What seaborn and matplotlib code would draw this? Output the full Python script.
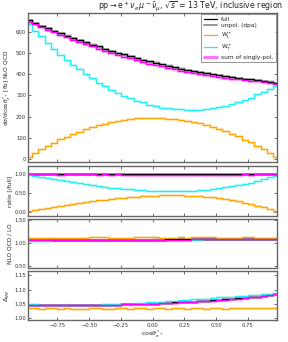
import numpy as np
import pandas as pd
import matplotlib
matplotlib.use("Agg")
import matplotlib.pyplot as plt
from matplotlib.lines import Line2D
import seaborn as sns

# bin edges of cos(theta*) : 40 bins of width 0.05
edges = np.linspace(-1, 1, 41)

# main panel, NLO QCD [fb]
wt = [639, 607, 579, 547, 522, 493, 470, 444, 423, 400, 382, 361, 345, 327, 314, 298, 288, 275, 267, 256,
      251, 243, 240, 234, 234, 231, 233, 233, 238, 240, 247, 252, 262, 269, 281, 290, 306, 318, 333, 345]
wl = [10, 29, 45, 63, 77, 93, 105, 120, 129, 142, 150, 161, 166, 175, 179, 186, 188, 193, 193, 195,
      194, 195, 191, 190, 184, 181, 173, 169, 159, 152, 140, 132, 118, 107, 91, 79, 61, 47, 27, 11]
full = [656, 643, 630, 619, 605, 596, 582, 573, 560, 551, 540, 532, 519, 511, 501, 494, 485, 478, 468, 462,
        454, 447, 440, 434, 426, 421, 415, 411, 405, 401, 395, 391, 387, 383, 378, 376, 372, 370, 366, 361]
unpol = [658, 645, 628, 621, 607, 594, 584, 571, 562, 549, 542, 530, 521, 509, 503, 492, 487, 476, 470, 460,
         456, 445, 442, 432, 428, 419, 417, 409, 407, 399, 397, 389, 389, 381, 380, 374, 374, 368, 368, 359]

# NLO QCD / LO
k_full = [1.065, 1.065, 1.065, 1.066, 1.066, 1.066, 1.067, 1.068, 1.068, 1.069, 1.070, 1.070, 1.071, 1.072,
          1.072, 1.073, 1.074, 1.074, 1.075, 1.076, 1.077, 1.077, 1.078, 1.079, 1.080, 1.080, 1.081, 1.082,
          1.083, 1.083, 1.084, 1.085, 1.086, 1.086, 1.087, 1.088, 1.089, 1.089, 1.090, 1.091]
k_unpol = [1.067, 1.063, 1.066, 1.068, 1.064, 1.067, 1.069, 1.066, 1.070, 1.068, 1.072, 1.069, 1.073, 1.070,
           1.074, 1.072, 1.075, 1.073, 1.077, 1.075, 1.078, 1.076, 1.080, 1.078, 1.081, 1.079, 1.083, 1.080,
           1.084, 1.082, 1.086, 1.084, 1.087, 1.085, 1.089, 1.087, 1.090, 1.088, 1.092, 1.090]
k_wl = [1.12, 1.12, 1.12, 1.12, 1.12, 1.115, 1.11, 1.10, 1.10, 1.105, 1.125, 1.13, 1.125, 1.12, 1.115, 1.10,
        1.11, 1.125, 1.135, 1.13, 1.125, 1.12, 1.115, 1.12, 1.125, 1.12, 1.125, 1.13, 1.13, 1.125, 1.12, 1.12,
        1.115, 1.12, 1.13, 1.125, 1.12, 1.115, 1.12, 1.12]
k_wt = [1.055, 1.055, 1.056, 1.056, 1.057, 1.057, 1.058, 1.058, 1.059, 1.060, 1.060, 1.061, 1.062, 1.063,
        1.064, 1.065, 1.066, 1.067, 1.068, 1.069, 1.070, 1.071, 1.072, 1.073, 1.074, 1.075, 1.076, 1.077,
        1.078, 1.079, 1.080, 1.081, 1.082, 1.083, 1.084, 1.085, 1.086, 1.087, 1.088, 1.089]
k_sum = [1.062, 1.062, 1.062, 1.063, 1.063, 1.063, 1.064, 1.065, 1.065, 1.066, 1.067, 1.067, 1.068, 1.069,
         1.069, 1.070, 1.071, 1.071, 1.072, 1.073, 1.074, 1.074, 1.075, 1.076, 1.077, 1.077, 1.078, 1.079,
         1.080, 1.080, 1.081, 1.082, 1.083, 1.083, 1.084, 1.085, 1.086, 1.086, 1.087, 1.088]

# Delta_gg
d_wl = [1.034, 1.034, 1.033, 1.034, 1.034, 1.033, 1.034, 1.033, 1.032, 1.033, 1.034, 1.034, 1.033, 1.033,
        1.034, 1.034, 1.033, 1.034, 1.034, 1.033, 1.034, 1.034, 1.033, 1.034, 1.034, 1.033, 1.034, 1.034,
        1.033, 1.034, 1.034, 1.033, 1.034, 1.034, 1.034, 1.034, 1.034, 1.035, 1.035, 1.035]
d_wt = [1.049, 1.048, 1.047, 1.047, 1.046, 1.046, 1.046, 1.046, 1.046, 1.046, 1.047, 1.047, 1.048, 1.048,
        1.049, 1.050, 1.051, 1.052, 1.053, 1.055, 1.056, 1.058, 1.059, 1.061, 1.063, 1.064, 1.066, 1.068,
        1.069, 1.071, 1.073, 1.074, 1.076, 1.078, 1.079, 1.081, 1.083, 1.084, 1.086, 1.088]
d_sum = [1.047, 1.047, 1.046, 1.046, 1.046, 1.046, 1.046, 1.046, 1.046, 1.046, 1.046, 1.046, 1.046, 1.047,
         1.047, 1.048, 1.048, 1.049, 1.049, 1.050, 1.051, 1.052, 1.053, 1.054, 1.055, 1.057, 1.058, 1.059,
         1.061, 1.062, 1.064, 1.065, 1.067, 1.069, 1.071, 1.073, 1.075, 1.078, 1.081, 1.084]
d_full = [1.047, 1.047, 1.047, 1.046, 1.046, 1.046, 1.046, 1.046, 1.046, 1.046, 1.046, 1.047, 1.046, 1.047,
          1.047, 1.048, 1.049, 1.049, 1.050, 1.050, 1.051, 1.052, 1.053, 1.055, 1.055, 1.057, 1.058, 1.060,
          1.061, 1.063, 1.064, 1.066, 1.067, 1.070, 1.071, 1.074, 1.075, 1.079, 1.081, 1.085]

COL = {"full": "black", "unpol": "#8c8c8c", "wl": "#ffa500", "wt": "#22f0f0", "sum": "#ff00ff"}
LW = {"full": 0.8, "unpol": 0.9, "wl": 0.8, "wt": 0.8, "sum": 0.9}
ORDER = ["wt", "wl", "unpol", "full", "sum"]

sns.set_theme(style="ticks")
plt.rcParams["font.family"] = ["DejaVu Sans"]
plt.rcParams["axes.edgecolor"] = "#666666"
plt.rcParams["axes.linewidth"] = 1.0
plt.rcParams["xtick.color"] = "#555555"
plt.rcParams["ytick.color"] = "#555555"
plt.rcParams["xtick.labelcolor"] = "#333333"
plt.rcParams["ytick.labelcolor"] = "#333333"

fig = plt.figure(figsize=(2.88, 3.42), dpi=100)
L, W = 0.098, 0.864
ax0 = fig.add_axes([L, 0.526, W, 0.436])
ax1 = fig.add_axes([L, 0.367, W, 0.148])
ax2 = fig.add_axes([L, 0.216, W, 0.145])
ax3 = fig.add_axes([L, 0.063, W, 0.145])


def draw(ax, data):
    # light band first, then the central line
    for band in (True, False):
        for name in ORDER:
            if name not in data:
                continue
            y = np.asarray(data[name], dtype=float)
            df = pd.DataFrame({"x": edges, "y": np.append(y, y[-1])})
            sns.lineplot(data=df, x="x", y="y", ax=ax, drawstyle="steps-post",
                         estimator=None, sort=False, color=COL[name],
                         lw=2.0 if band else LW[name], alpha=0.3 if band else 1.0)


full_a = np.array(full, dtype=float)
sum_pol = np.array(wt) + np.array(wl)
draw(ax0, {"wt": wt, "wl": wl, "unpol": unpol, "full": full, "sum": sum_pol})
draw(ax1, {"wt": np.array(wt) / full_a, "wl": np.array(wl) / full_a,
           "unpol": np.array(unpol) / full_a, "full": full_a / full_a, "sum": sum_pol / full_a})
draw(ax2, {"wt": k_wt, "wl": k_wl, "unpol": k_unpol, "full": k_full, "sum": k_sum})
draw(ax3, {"wt": d_wt, "wl": d_wl, "full": d_full, "sum": d_sum})

ax0.set_ylim(-15, 690)
ax0.set_yticks([0, 100, 200, 300, 400, 500, 600])
ax1.set_ylim(-0.12, 1.21)
ax1.set_yticks([0.0, 0.5, 1.0])
ax1.set_yticklabels(["0.00", "0.50", "1.00"])
ax2.set_ylim(0.46, 1.53)
ax2.set_yticks([0.5, 1.0, 1.5])
ax2.set_yticklabels(["0.50", "1.00", "1.50"])
ax3.set_ylim(0.992, 1.166)
ax3.set_yticks([1.0, 1.05, 1.10, 1.15])
ax3.set_yticklabels(["1.00", "1.05", "1.10", "1.15"])

xt = [-0.75, -0.5, -0.25, 0.0, 0.25, 0.5, 0.75]
for ax in (ax0, ax1, ax2, ax3):
    ax.set_xlim(-0.98, 0.98)
    ax.set_xticks(xt)
    ax.tick_params(direction="in", top=True, right=True, length=2.5, width=0.6,
                   labelsize=3.8, pad=1.5)
    ax.set_xlabel("")
    if ax is not ax3:
        ax.set_xticklabels([])
    ax.yaxis.set_label_coords(-0.062, 0.5)

ax3.set_xticklabels(["\u22120.75", "\u22120.50", "\u22120.25", "0.00", "0.25", "0.50", "0.75"])
ax3.set_xlabel(r"cos$\theta^*_{e^+}$", fontsize=4.6, labelpad=0.8)

ax0.set_ylabel(r"d$\sigma$/dcos$\theta^*_{e^+}$ [fb] NLO QCD", fontsize=4.2)
ax1.set_ylabel("ratio [/full]", fontsize=4.2)
ax2.set_ylabel("NLO QCD / LO", fontsize=4.2)
ax3.set_ylabel(r"$\Delta_{gg}$", fontsize=4.6)

ax0.set_title(r"pp$\rightarrow$e$^+\nu_e\,\mu^-\bar{\nu}_\mu$, $\sqrt{s}$ = 13 TeV, inclusive region",
              fontsize=5.7, loc="right", pad=2.5, x=1.025)

handles = [
    Line2D([], [], color="black", lw=0.9),
    Line2D([], [], color="#8c8c8c", lw=1.3),
    Line2D([], [], color="#ffa500", lw=0.9),
    Line2D([], [], color="#22f0f0", lw=0.9),
    Line2D([], [], color="#ff66ff", lw=2.0),
]
labels = ["full", "unpol. (dpa)", r"W$^+_{\rm L}$", r"W$^+_{\rm T}$", "sum of singly-pol."]
leg = ax0.legend(handles, labels, loc="upper right", fontsize=4.2, frameon=True,
                 handlelength=2.2, borderpad=0.4, labelspacing=0.3, borderaxespad=0.2,
                 fancybox=False)
leg.get_frame().set_edgecolor("#666666")
leg.get_frame().set_linewidth(0.6)

plt.savefig("out.png", dpi=100)
